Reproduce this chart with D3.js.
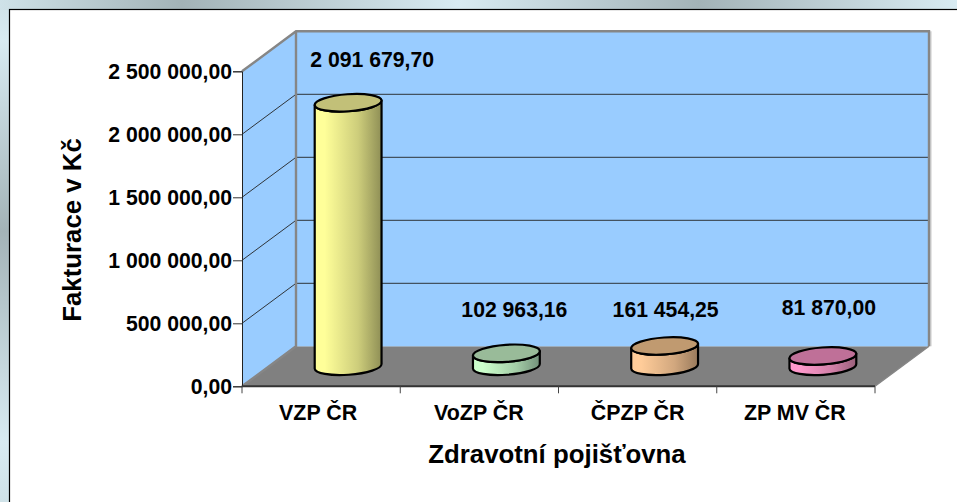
<!DOCTYPE html>
<html><head><meta charset="utf-8">
<script src="https://cdn.jsdelivr.net/npm/d3@7"></script>
<style>html,body{margin:0;padding:0;background:#fff;overflow:hidden}svg{display:block}text{font-family:"Liberation Sans",Arial,sans-serif;font-weight:bold;fill:#000}</style>
</head><body><svg id="c" width="957" height="502"></svg>
<script>
const categories = ["VZP ČR","VoZP ČR","ČPZP ČR","ZP MV ČR"];
const values = [2091679.70,102963.16,161454.25,81870.00];
const valueLabels = ["2 091 679,70","102 963,16","161 454,25","81 870,00"];
const yTicks = [0,500000,1000000,1500000,2000000,2500000];
const yTickLabels = ["0,00","500 000,00","1 000 000,00","1 500 000,00","2 000 000,00","2 500 000,00"];
const bodyLight = ["#ffff99","#ccffcc","#ffcc99","#ff99cc"];
const bodyDark = ["#8f8f56","#72907a","#997a5c","#99607a"];
const topColors = ["#c2c078","#99bb99","#c09a70","#bf7098"];

const svg = d3.select("#c");
const defs = svg.append("defs");

const left=242,right=875,dx=54,dy=-40;
const x = d3.scaleBand().domain(categories).range([left,right]);
const y = d3.scaleLinear().domain([0,2500000]).range([386.3,71.3]);

// slide background strips
const light="#d8ebf2", dark="#a3b3b7";
const bgH = defs.append("linearGradient").attr("id","bgH").attr("x1",0).attr("y1",0).attr("x2",1).attr("y2",0);
[[0,"#cfe2e8"],[0.19,dark],[0.48,light],[0.73,dark],[1,light]].forEach(s=>bgH.append("stop").attr("offset",s[0]).attr("stop-color",s[1]));
const bgV = defs.append("linearGradient").attr("id","bgV").attr("x1",0).attr("y1",0).attr("x2",0).attr("y2",1);
[[0,"#cfe2e8"],[0.08,light],[0.46,dark],[0.88,light],[1,"#cfe2e8"]].forEach(s=>bgV.append("stop").attr("offset",s[0]).attr("stop-color",s[1]));
svg.append("rect").attr("width",957).attr("height",502).attr("fill","url(#bgV)");
svg.append("rect").attr("width",957).attr("height",10).attr("fill","url(#bgH)");
svg.append("rect").attr("x",9.5).attr("y",9.5).attr("width",960).attr("height",510).attr("fill","#fff").attr("stroke","#000").attr("stroke-width",1.2);

const line = d3.line();
const g = svg.append("g");
const wallColor="#99ccff", edge="#868686";
// floor
g.append("path").attr("d",line([[left,y(0)],[right,y(0)],[right+dx,y(0)+dy],[left+dx,y(0)+dy]])+"Z").attr("fill","#808080");
// side wall
g.append("path").attr("d",line([[left,y(0)],[left+dx,y(0)+dy],[left+dx,y(2500000)+dy],[left,y(2500000)]])+"Z").attr("fill",wallColor);
// back wall
g.append("rect").attr("x",left+dx).attr("y",y(2500000)+dy).attr("width",right-left).attr("height",y(0)-y(2500000)).attr("fill",wallColor);
// gridlines
yTicks.slice(1,-1).forEach(t=>{
  g.append("path").attr("d",line([[left,y(t)],[left+dx,y(t)+dy],[right+dx,y(t)+dy]])).attr("fill","none").attr("stroke","#222").attr("stroke-width",0.9);
});
// wall edges
g.append("path").attr("d",line([[left,y(2500000)],[left+dx,y(2500000)+dy],[right+dx,y(2500000)+dy],[right+dx,y(0)+dy]])).attr("fill","none").attr("stroke",edge).attr("stroke-width",2.4);
g.append("path").attr("d",line([[left+dx,y(2500000)+dy],[left+dx,y(0)+dy],[left,y(0)]])).attr("fill","none").attr("stroke",edge).attr("stroke-width",2.4);
g.append("path").attr("d",line([[right+dx,y(0)+dy],[right,y(0)]])).attr("fill","none").attr("stroke",edge).attr("stroke-width",1.4);
g.append("line").attr("x1",right+dx+1.8).attr("x2",right+dx+1.8).attr("y1",y(2500000)+dy).attr("y2",y(0)+dy).attr("stroke","#bbb").attr("stroke-width",1.2);

// axes
const yAxis = d3.axisLeft(y).tickValues(yTicks).tickSize(9).tickPadding(1).tickFormat((d,i)=>yTickLabels[i]);
const ya = svg.append("g").attr("transform",`translate(${left},0)`).call(yAxis);
ya.selectAll("text").style("font-size","21.2px");
ya.selectAll("line").attr("stroke","#333").attr("stroke-width",1);
ya.select(".domain").attr("stroke","#222").attr("stroke-width",1);
const bandTicks = categories.map(c=>x(c)).concat([right]);
const xa = svg.append("g");
xa.append("line").attr("x1",left).attr("x2",right).attr("y1",y(0)).attr("y2",y(0)).attr("stroke","#333").attr("stroke-width",2);
bandTicks.forEach(t=>xa.append("line").attr("x1",t).attr("x2",t).attr("y1",y(0)).attr("y2",y(0)+7).attr("stroke","#444").attr("stroke-width",1));
const catDx=[-3,-0.5,0,-1];
categories.forEach((c,i)=>xa.append("text").attr("x",x(c)+x.bandwidth()/2+catDx[i]).attr("y",420).attr("text-anchor","middle").style("font-size","21.4px").text(c));

// cylinders
const rx=33.5, ry=8.5, tilt=-4;
const ca=Math.cos(tilt*Math.PI/180), sa=Math.sin(tilt*Math.PI/180);
const pt=(cx,cy,t)=>[cx+rx*Math.cos(t)*ca-ry*Math.sin(t)*sa, cy+rx*Math.cos(t)*sa+ry*Math.sin(t)*ca];
categories.forEach((c,i)=>{
  const cx=x(c)+x.bandwidth()/2+dx/2;
  const by=y(0)+dy/2;
  const ty=by-(y(0)-y(values[i]));
  const grad=defs.append("linearGradient").attr("id","b"+i).attr("gradientUnits","userSpaceOnUse").attr("x1",cx-rx).attr("x2",cx+rx).attr("y1",0).attr("y2",0);
  grad.append("stop").attr("offset",0).attr("stop-color",bodyLight[i]);
  grad.append("stop").attr("offset",0.15).attr("stop-color",bodyLight[i]);
  grad.append("stop").attr("offset",0.65).attr("stop-color",d3.interpolateRgb(bodyLight[i],bodyDark[i])(0.45));
  grad.append("stop").attr("offset",1).attr("stop-color",bodyDark[i]);
  const p0=pt(cx,ty,Math.PI), p1=pt(cx,by,Math.PI), p2=pt(cx,by,0), p3=pt(cx,ty,0);
  const R=`A${rx} ${ry} ${tilt} 0 `;
  svg.append("path").attr("d",`M${p0}L${p1}${R}0 ${p2}L${p3}${R}1 ${p0}Z`).attr("fill",`url(#b${i})`).attr("stroke","#000").attr("stroke-width",2.2).attr("stroke-linejoin","round");
  svg.append("ellipse").attr("rx",rx).attr("ry",ry).attr("transform",`translate(${cx},${ty}) rotate(${tilt})`).attr("fill",topColors[i]).attr("stroke","#000").attr("stroke-width",2.2);
});

// value labels
const labelDx=[51,35,28,33];
const labelY=[67,317,317,315];
categories.forEach((c,i)=>{
  svg.append("text").attr("x",x(c)+x.bandwidth()/2+labelDx[i]).attr("y",labelY[i]).attr("text-anchor","middle").style("font-size","21.2px").text(valueLabels[i]);
});

// axis titles
svg.append("text").attr("x",557).attr("y",463).attr("text-anchor","middle").style("font-size","25.8px").text("Zdravotní pojišťovna");
svg.append("text").attr("transform","translate(81,230) rotate(-90)").attr("text-anchor","middle").style("font-size","25.8px").text("Fakturace v Kč");
</script></body></html>
